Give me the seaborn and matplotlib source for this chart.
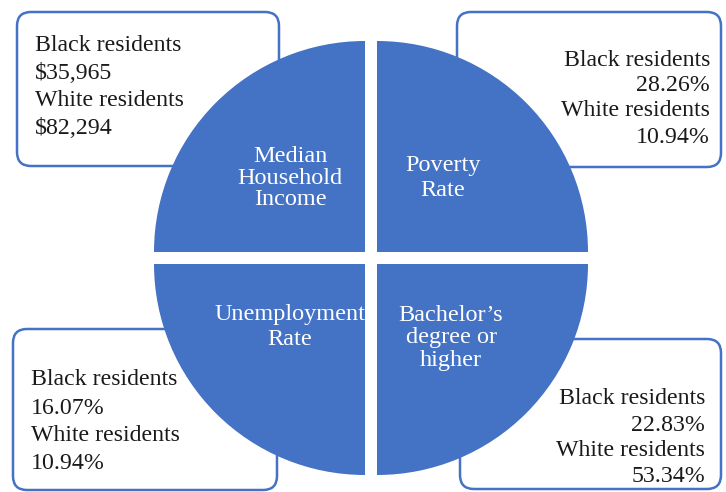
import seaborn as sns
import matplotlib.pyplot as plt
from matplotlib.patches import FancyBboxPatch

# the four indicators, one per quarter of the circle
metrics = ["Poverty\nRate", "Median\nHousehold\nIncome",
           "Unemployment\nRate", "Bachelor\u2019s\ndegree or\nhigher"]
shares = [1, 1, 1, 1]
black_vals = ["28.26%", "$35,965", "16.07%", "22.83%"]
white_vals = ["10.94%", "$82,294", "10.94%", "53.34%"]

BLUE = "#4472C4"
W, H = 726, 492

sns.set_theme(style="white")
plt.rcParams['font.family'] = ['Liberation Serif', 'DejaVu Serif']

fig = plt.figure(figsize=(W / 100, H / 100), dpi=100)
ax = fig.add_axes([0, 0, 1, 1])


def Y(py):
    # pixel row -> data y
    return H - py


# boxes: (left, top, right, bottom) in pixels, text anchor, alignment, line rows
boxes = [
    ((457, 12, 721, 167), 710, 'right', [58, 83, 108, 135]),
    ((17, 12, 279, 166), 35, 'left', [43, 71, 98, 126]),
    ((13, 329, 277, 490), 31, 'left', [377, 406, 433, 461]),
    ((460, 339, 721, 489), 705, 'right', [396, 423, 448, 474]),
]

for i, ((l, t, r, b), tx, ha, rows) in enumerate(boxes):
    ax.add_patch(FancyBboxPatch((l, Y(b)), r - l, b - t,
                                boxstyle="round,pad=0,rounding_size=14",
                                fc="white", ec=BLUE, lw=1.8, zorder=1))
    lines = ["Black residents", black_vals[i], "White residents", white_vals[i]]
    for txt, row in zip(lines, rows):
        ax.text(tx, Y(row), txt, ha=ha, va='center_baseline', fontsize=17.2,
                color="#1a1a1a", zorder=3)

# circle split into exploded quarters (explode is in data units here)
R = 211
cx, cy = 371, 258
ax.pie(shares, radius=R, center=(cx, Y(cy)), startangle=0, counterclock=True,
       colors=[BLUE] * 4, explode=[6 * 2 ** 0.5] * 4, frame=True,
       wedgeprops=dict(lw=0, zorder=2))
ax.set_xlim(0, W)
ax.set_ylim(0, H)
ax.set_aspect('equal')
ax.axis('off')

label_pos = [(443, 178), (290, 178), (290, 327), (451, 338)]
spacing = [1.3, 1.06, 1.3, 1.1]
for name, (lx, ly), ls in zip(metrics, label_pos, spacing):
    ax.text(lx, Y(ly), name, ha='center', va='center', fontsize=17.5,
            color="white", linespacing=ls, zorder=4)

fig.savefig("out.png", dpi=100)
